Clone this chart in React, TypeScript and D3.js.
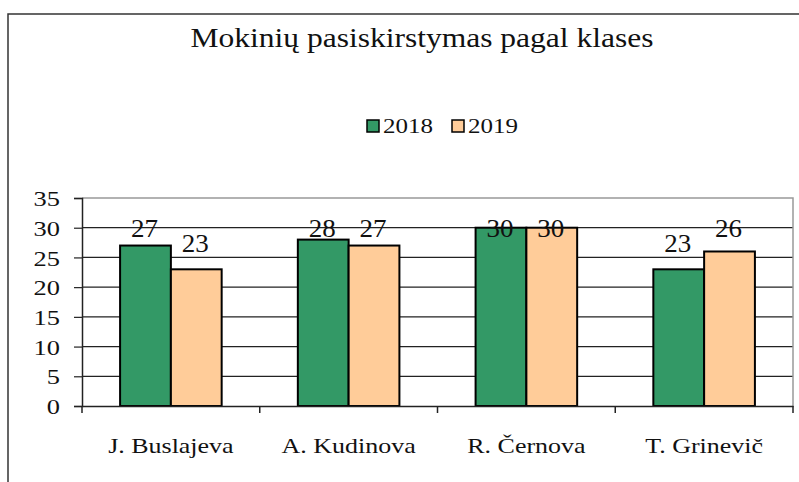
import { useEffect, useRef } from 'react';
import * as d3 from 'd3';

const teachers = ['J. Buslajeva', 'A. Kudinova', 'R. Černova', 'T. Grinevič'];
const years = ['2018', '2019'];
const values2018 = [27, 28, 30, 23];
const values2019 = [23, 27, 30, 26];
const yTicks = [0, 5, 10, 15, 20, 25, 30, 35];
const colors = ['#339966', '#FFCC99'];

// the source chart's text is a bit wider than Liberation Serif, stretch it
const stretch = (sel: d3.Selection<any, any, any, any>, k: number) => {
  sel.each(function (this: any) {
    const len = this.getComputedTextLength();
    d3.select(this).attr('textLength', len * k).attr('lengthAdjust', 'spacingAndGlyphs');
  });
};

const App = () => {
  const svgRef = useRef<SVGSVGElement | null>(null);

  useEffect(() => {
    document.body.style.margin = '0';
    const width = 799;
    const height = 482;
    const margin = { left: 82, right: 6, top: 198, bottom: 76 };
    const font = '"Liberation Serif", "Times New Roman", serif';

    const svg = d3.select(svgRef.current);
    svg.selectAll('*').remove();
    svg.attr('width', width).attr('height', height);

    svg.append('rect').attr('width', width).attr('height', height).attr('fill', 'white');

    // outer chart frame (cut off at the right and bottom)
    svg.append('path')
      .attr('d', `M8,${height + 2}V14H${width + 2}`)
      .attr('fill', 'none')
      .attr('stroke', '#333')
      .attr('stroke-width', 1.5);

    const title = svg.append('text')
      .attr('x', 422)
      .attr('y', 47)
      .attr('text-anchor', 'middle')
      .style('font-family', font)
      .style('font-size', '27px')
      .attr('fill', '#111')
      .text('Mokinių pasiskirstymas pagal klases');
    title.attr('textLength', 463).attr('lengthAdjust', 'spacingAndGlyphs');

    const x = d3.scaleBand<string>()
      .domain(teachers)
      .range([margin.left, width - margin.right])
      .padding(0);

    const inner = d3.scaleBand<string>()
      .domain(years)
      .range([0, x.bandwidth()])
      .paddingOuter(0.75)
      .paddingInner(0);

    const y = d3.scaleLinear()
      .domain([0, 35])
      .range([height - margin.bottom, margin.top]);

    const plotTop = y(35);
    const plotBottom = y(0);
    const plotRight = width - margin.right;

    // gridlines
    svg.append('g')
      .selectAll('line')
      .data(yTicks.filter(t => t > 0 && t < 35))
      .enter()
      .append('line')
      .attr('x1', margin.left)
      .attr('x2', plotRight)
      .attr('y1', d => y(d))
      .attr('y2', d => y(d))
      .attr('stroke', '#222')
      .attr('stroke-width', 1.2);

    // plot area border (top & right)
    svg.append('path')
      .attr('d', `M${margin.left},${plotTop}H${plotRight}V${plotBottom}`)
      .attr('fill', 'none')
      .attr('stroke', '#999')
      .attr('stroke-width', 1.5);

    // bars
    const series = [values2018, values2019];
    const groups = svg.append('g');
    teachers.forEach((t, i) => {
      years.forEach((yr, j) => {
        const v = series[j][i];
        groups.append('rect')
          .attr('x', (x(t) ?? 0) + (inner(yr) ?? 0))
          .attr('y', y(v))
          .attr('width', inner.bandwidth())
          .attr('height', plotBottom - y(v))
          .attr('fill', colors[j])
          .attr('stroke', 'black')
          .attr('stroke-width', 2);
      });
    });

    // y axis
    const yAxis = svg.append('g').attr('transform', `translate(${margin.left},0)`)
      .call(d3.axisLeft(y).tickValues(yTicks).tickSize(8).tickPadding(14));
    yAxis.select('.domain').attr('stroke', '#222').attr('stroke-width', 1.5);
    yAxis.selectAll('.tick line').attr('stroke', '#222').attr('stroke-width', 1.2);
    const yText = yAxis.selectAll('.tick text')
      .style('font-family', font)
      .style('font-size', '22px')
      .attr('fill', '#111')
      .attr('dy', '0.35em');
    stretch(yText, 1.2);

    // x axis
    const xAxis = svg.append('g').attr('transform', `translate(0,${plotBottom})`)
      .call(d3.axisBottom(x).tickSize(0).tickPadding(31));
    xAxis.select('.domain').attr('stroke', '#222').attr('stroke-width', 1.5);
    const xText = xAxis.selectAll('.tick text')
      .style('font-family', font)
      .style('font-size', '22px')
      .attr('fill', '#111');
    stretch(xText, 1.18);
    // category boundary ticks
    const bounds = [...teachers.map(t => x(t) ?? 0), plotRight];
    xAxis.selectAll('.bound')
      .data(bounds)
      .enter()
      .append('line')
      .attr('x1', d => d)
      .attr('x2', d => d)
      .attr('y1', 0)
      .attr('y2', 7)
      .attr('stroke', '#222')
      .attr('stroke-width', 1.5);

    // value labels
    const labels = svg.append('g');
    teachers.forEach((t, i) => {
      years.forEach((yr, j) => {
        const v = series[j][i];
        const cx = (x(t) ?? 0) + (inner(yr) ?? 0) + inner.bandwidth() / 2 - 1;
        const lbl = labels.append('text')
          .attr('x', cx)
          .attr('y', Math.max(y(v) - 17, plotTop + 39))
          .attr('text-anchor', 'middle')
          .style('font-family', font)
          .style('font-size', '25px')
          .attr('fill', '#111')
          .text(v);
        stretch(lbl, 1.08);
      });
    });

    // legend
    const legend = svg.append('g').attr('transform', 'translate(367,120)');
    years.forEach((yr, j) => {
      const row = legend.append('g').attr('transform', `translate(${j * 85},0)`);
      row.append('rect')
        .attr('width', 12)
        .attr('height', 12)
        .attr('fill', colors[j])
        .attr('stroke', 'black')
        .attr('stroke-width', 1.5);
      const lt = row.append('text')
        .attr('x', 16)
        .attr('y', 13)
        .style('font-family', font)
        .style('font-size', '20px')
        .attr('fill', '#111')
        .text(yr);
      stretch(lt, 1.25);
    });
  }, []);

  return <svg ref={svgRef}></svg>;
};

export default App;
